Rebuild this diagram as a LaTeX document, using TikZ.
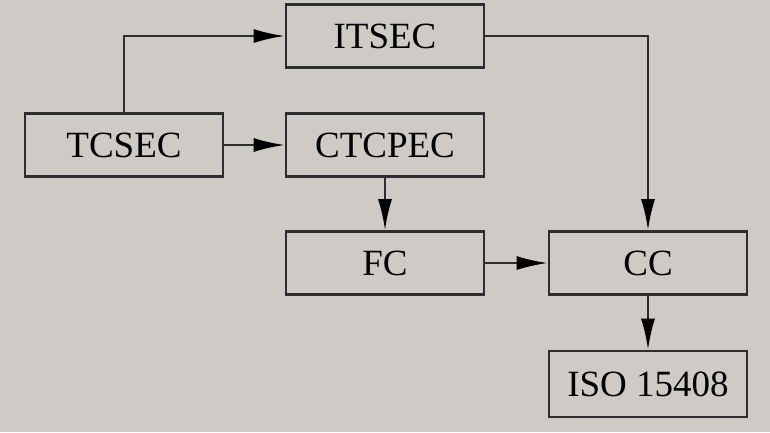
\documentclass[tikz,border=0pt]{standalone}
\usepackage{fontspec}
\setmainfont{Liberation Serif}
\usetikzlibrary{arrows.meta}
\definecolor{bggray}{RGB}{206,203,198}
\definecolor{linegray}{RGB}{45,45,45}
\tikzset{
  stdbox/.style={draw=linegray, line width=2.6pt, fill=bggray, minimum width=198pt,
    minimum height=63pt, inner sep=0pt, text=black, font=\fontsize{37}{40}\selectfont},
  flow/.style={draw=linegray, line width=2.4pt,
    -{Latex[length=31pt,width=14pt,fill=black,color=black]}}
}
\begin{document}
\begin{tikzpicture}[x=1pt,y=-1pt]
\fill[bggray] (0,0) rectangle (770,432);
\useasboundingbox (0,0) rectangle (770,432);
\node[stdbox] (itsec) at (385,36) {ITSEC};
\node[stdbox] (tcsec) at (124,145) {TCSEC};
\node[stdbox] (ctcpec) at (385,145) {CTCPEC};
\node[stdbox] (fc) at (385,263) {FC};
\node[stdbox] (cc) at (648,263) {CC};
\node[stdbox, minimum height=66pt] (iso) at (648,384) {ISO 15408};
\draw[flow] (tcsec.north) |- (itsec.west);
\draw[flow] (tcsec) -- (ctcpec);
\draw[flow] (ctcpec) -- (fc);
\draw[flow] (fc) -- (cc);
\draw[flow] (itsec.east) -| (cc.north);
\draw[flow] (cc) -- (iso);
\end{tikzpicture}
\end{document}
